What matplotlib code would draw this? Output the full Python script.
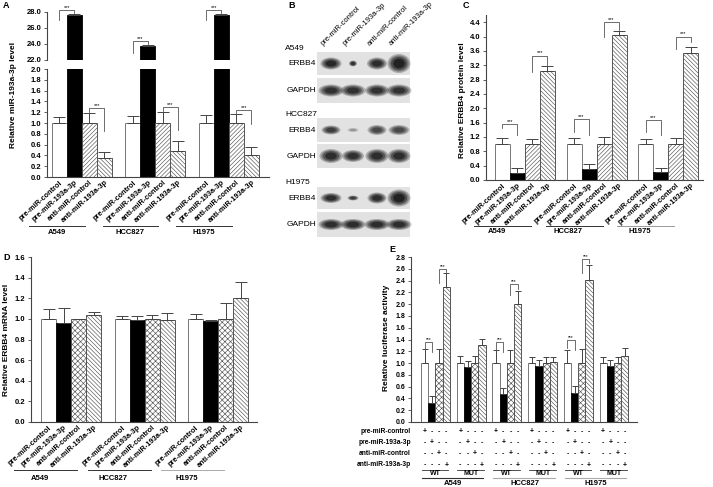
import numpy as np
import matplotlib
matplotlib.use('Agg')
import matplotlib.pyplot as plt
from matplotlib.patches import Rectangle, Ellipse

plt.rcParams['font.family'] = ['Liberation Sans', 'DejaVu Sans']
plt.rcParams['hatch.linewidth'] = 0.45

# ---------------- data ----------------
treatments = ['pre-miR-control', 'pre-miR-193a-3p', 'anti-miR-control', 'anti-miR-193a-3p']
cell_lines = ['A549', 'HCC827', 'H1975']

# A: relative miR-193a-3p level
mir_vals = [[1.0, 27.6, 1.0, 0.35], [1.0, 23.75, 1.0, 0.49], [1.0, 27.6, 1.0, 0.41]]
mir_err = [[0.11, 0.12, 0.18, 0.11], [0.13, 0.10, 0.20, 0.17], [0.14, 0.12, 0.16, 0.15]]
# brackets: (group, bar_a, bar_b, top, left_end, right_end)
mir_brk_hi = [(0, 0, 1, 28.3, 27.0, 27.85), (1, 0, 1, 24.4, 22.9, 24.0), (2, 0, 1, 28.3, 27.0, 27.85)]
mir_brk_lo = [(0, 2, 3, 1.28, 1.20, 0.85), (1, 2, 3, 1.30, 1.22, 0.87), (2, 2, 3, 1.24, 1.18, 0.98)]

# C: relative ERBB4 protein level
prot_vals = [[1.0, 0.20, 1.0, 3.03], [1.0, 0.30, 1.0, 4.04], [1.0, 0.22, 1.0, 3.53]]
prot_err = [[0.16, 0.13, 0.15, 0.16], [0.16, 0.15, 0.19, 0.12], [0.13, 0.11, 0.16, 0.19]]
prot_brk = [(0, 0, 1, 1.57, 1.45, 1.25), (0, 2, 3, 3.47, 3.02, 3.21),
            (1, 0, 1, 1.70, 1.35, 1.26), (1, 2, 3, 4.40, 4.00, 4.19),
            (2, 0, 1, 1.66, 1.35, 1.26), (2, 2, 3, 4.00, 3.65, 3.86)]

# D: relative ERBB4 mRNA level
mrna_vals = [[1.0, 0.96, 1.0, 1.035], [1.0, 0.99, 1.0, 0.99], [1.0, 0.975, 1.0, 1.20]]
mrna_err = [[0.10, 0.15, 0.0, 0.035], [0.025, 0.035, 0.04, 0.065], [0.045, 0.01, 0.15, 0.16]]

# E: relative luciferase activity
luc_groups = ['WT', 'MUT', 'WT', 'MUT', 'WT', 'MUT']
luc_vals = [[1.0, 0.32, 1.0, 2.29], [1.0, 0.93, 1.0, 1.30], [1.0, 0.47, 1.0, 2.00],
            [1.0, 0.95, 1.0, 1.01], [1.0, 0.49, 1.0, 2.41], [1.0, 0.95, 1.0, 1.12]]
luc_err = [[0.24, 0.12, 0.24, 0.24], [0.12, 0.11, 0.12, 0.11], [0.23, 0.115, 0.23, 0.23],
           [0.11, 0.11, 0.11, 0.10], [0.23, 0.12, 0.24, 0.26], [0.11, 0.10, 0.11, 0.13]]
luc_brk = [(0, 0, 1, 1.35, 1.22, 1.19), (0, 2, 3, 2.60, 2.36, 2.55),
           (2, 0, 1, 1.35, 1.22, 1.19), (2, 2, 3, 2.34, 2.16, 2.25),
           (4, 0, 1, 1.39, 1.25, 1.22), (4, 2, 3, 2.76, 2.53, 2.70)]

# B: western blot bands (width, height, darkness) per lane
blot_labels = ['ERBB4', 'GAPDH', 'ERBB4', 'GAPDH', 'ERBB4', 'GAPDH']
band_w = [[21, 8, 20, 23], [25, 25, 24, 25], [19, 11, 19, 21], [23, 22, 23, 23], [21, 11, 19, 23], [25, 25, 25, 25]]
band_h = [[12, 6, 12, 19], [12, 12, 12, 12], [9, 4, 10, 10], [14, 12, 14, 14], [10, 5, 11, 17], [11, 11, 11, 11]]
band_k = [[0.95, 0.9, 0.92, 0.97], [0.9, 0.9, 0.9, 0.9], [0.85, 0.45, 0.8, 0.8],
          [0.92, 0.9, 0.92, 0.92], [0.92, 0.85, 0.92, 0.97], [0.92, 0.92, 0.92, 0.92]]

# ---------------- layout helpers ----------------
W, H = 713, 487
fig = plt.figure(figsize=(W / 100, H / 100), dpi=100)


def add_ax(x0, y0, x1, y1):
    return fig.add_axes([x0 / W, 1 - y1 / H, (x1 - x0) / W, (y1 - y0) / H])


def style_ax(ax, ylim, yticks, xlim, fs=5.5):
    ax.set_ylim(*ylim)
    ax.set_xlim(*xlim)
    ax.set_yticks(yticks)
    ax.set_yticklabels(['%.1f' % t for t in yticks], fontsize=fs, fontweight='bold')
    for s in ['top', 'right']:
        ax.spines[s].set_visible(False)
    for s in ['left', 'bottom']:
        ax.spines[s].set_color('#444444')
        ax.spines[s].set_linewidth(0.8)
    ax.tick_params(axis='y', length=2.5, width=0.6, color='#444444', pad=1.5)
    ax.tick_params(axis='x', length=0, pad=1.5)
    ax.patch.set_alpha(0)


def bar_styles(cross):
    return [dict(facecolor='white', edgecolor='#777777'),
            dict(facecolor='black', edgecolor='#111111'),
            dict(facecolor='white', edgecolor='#555555', hatch='xxxxxx' if cross else '////////'),
            dict(facecolor='white', edgecolor='#555555', hatch='\\\\\\\\\\\\\\\\')]


def draw_bars(ax, vals, errs, step, width=1.0, cross=False, cap=4):
    st = bar_styles(cross)
    for g, (v, e) in enumerate(zip(vals, errs)):
        x = g * step + np.arange(4)
        for i in range(4):
            ax.bar(x[i], v[i], width, linewidth=0.7, zorder=2, **st[i])
        ax.errorbar(x, v, yerr=[np.zeros(4), e], fmt='none', ecolor='#444444',
                    elinewidth=0.7, capsize=cap, capthick=0.7, zorder=3)


def draw_brackets(ax, brks, step, fs=4):
    for g, a, b, top, yl, yr in brks:
        xa, xb = g * step + a, g * step + b
        ax.plot([xa, xa, xb, xb], [yl, top, top, yr], color='#555555', lw=0.6, clip_on=False, zorder=4)
        ax.text((xa + xb) / 2, top, '***', ha='center', va='bottom', fontsize=fs, clip_on=False)


def set_xlabels(ax, step, rot=42):
    pos = [g * step + i for g in range(3) for i in range(4)]
    ax.set_xticks(pos)
    ax.set_xticklabels(treatments * 3, rotation=rot, ha='right', rotation_mode='anchor',
                       fontsize=5.3, fontweight='bold')


def group_lines(ax, step, top_px, bot_px, line_px, text_px, off=(-3.5, 0.1), toff=-1.9, colors=None):
    tr = ax.get_xaxis_transform()
    hgt = bot_px - top_px
    yl = (bot_px - line_px) / hgt
    yt = (bot_px - text_px) / hgt
    for g, name in enumerate(cell_lines):
        c = g * step + 1.5
        col = colors[g] if colors else '#333333'
        ax.plot([c + off[0], c + off[1]], [yl, yl], transform=tr, color=col, lw=0.7, clip_on=False)
        ax.text(c + toff, yt, name, transform=tr, ha='center', va='center', fontsize=5.5,
                fontweight='bold', clip_on=False)


# ---------------- panel A (broken axis) ----------------
stepA = 4.9
xlimA = (-0.83, 13.97)
axA_lo = add_ax(47, 69, 269, 177)
axA_hi = add_ax(47, 12, 269, 60)
draw_bars(axA_lo, mir_vals, mir_err, stepA)
draw_bars(axA_hi, mir_vals, mir_err, stepA)
style_ax(axA_lo, (0, 2.0), np.arange(0, 2.01, 0.2), xlimA)
style_ax(axA_hi, (22, 28), [22, 24, 26, 28], xlimA)
axA_hi.spines['bottom'].set_visible(False)
axA_hi.set_xticks([])
draw_brackets(axA_hi, mir_brk_hi, stepA)
draw_brackets(axA_lo, mir_brk_lo, stepA)
set_xlabels(axA_lo, stepA)
group_lines(axA_lo, stepA, 69, 177, 226, 232, off=(-3.5, 0.2), toff=-1.7)
fig.text(14 / W, 1 - 95 / H, 'Relative miR-193a-3p level', rotation=90, ha='center', va='center',
         fontsize=6, fontweight='bold')

# ---------------- panel C ----------------
stepC = 4.77
axC = add_ax(486, 15, 703, 180)
draw_bars(axC, prot_vals, prot_err, stepC)
style_ax(axC, (0, 4.6), np.arange(0, 4.41, 0.4), (-1.1, 13.37))
draw_brackets(axC, prot_brk, stepC)
set_xlabels(axC, stepC)
group_lines(axC, stepC, 15, 180, 226, 232, off=(-3.4, 0.4), toff=-1.9,
            colors=['#333333', '#333333', '#999999'])
fig.text(462 / W, 1 - 100 / H, 'Relative ERBB4 protein level', rotation=90, ha='center', va='center',
         fontsize=6, fontweight='bold')

# ---------------- panel D ----------------
stepD = 4.9
axD = add_ax(31, 257, 257, 422)
draw_bars(axD, mrna_vals, mrna_err, stepD, cross=True)
style_ax(axD, (0, 1.6), np.arange(0, 1.61, 0.2), (-1.17, 13.9))
set_xlabels(axD, stepD)
group_lines(axD, stepD, 257, 422, 470, 478, off=(-3.8, 0.4), toff=-2.1,
            colors=['#333333', '#333333', '#aaaaaa'])
fig.text(7 / W, 1 - 340 / H, 'Relative ERBB4 mRNA level', rotation=90, ha='center', va='center',
         fontsize=6, fontweight='bold')

# ---------------- panel E ----------------
stepE = 4.96
axE = add_ax(411, 257, 637, 422)
draw_bars(axE, luc_vals, luc_err, stepE, cross=True, cap=2.5)
style_ax(axE, (0, 2.8), np.arange(0, 2.81, 0.2), (-1.9, 29.5), fs=5)
axE.set_xticks([])
draw_brackets(axE, luc_brk, stepE, fs=3.5)
trE = axE.get_xaxis_transform()
hE = 422 - 257
row_y = [431.7, 442.7, 453.7, 465.0]
for r, name in enumerate(treatments):
    yy = (422 - row_y[r]) / hE
    axE.text(-1.9, yy, name, transform=trE, ha='right', va='center', fontsize=4.8,
             fontweight='bold', clip_on=False)
    for g in range(len(luc_groups)):
        for i in range(4):
            axE.text(g * stepE + i, yy, '+' if i == r else '-', transform=trE, ha='center',
                     va='center', fontsize=5, fontweight='bold', clip_on=False)
for g, name in enumerate(luc_groups):
    y1 = (422 - 469.5) / hE
    axE.plot([g * stepE - 0.4, g * stepE + 3.3], [y1, y1], transform=trE, color='#333333', lw=0.6,
             clip_on=False)
    axE.text(g * stepE + 1.5, (422 - 473.8) / hE, name, transform=trE, ha='center', va='center',
             fontsize=5, fontweight='bold', clip_on=False)
for c, name in enumerate(cell_lines):
    y2 = (422 - 477.8) / hE
    g0 = 2 * c * stepE
    axE.plot([g0 - 0.4, g0 + stepE + 3.2], [y2, y2], transform=trE,
             color='#333333' if c == 0 else '#aaaaaa', lw=0.8, clip_on=False)
    axE.text(g0 + (stepE + 3) / 2, (422 - 483.5) / hE, name, transform=trE, ha='center', va='center',
             fontsize=5.5, fontweight='bold', clip_on=False)
fig.text(386 / W, 1 - 338 / H, 'Relative luciferase activity', rotation=90, ha='center', va='center',
         fontsize=6, fontweight='bold')

# ---------------- panel B (western blot) ----------------
axB = add_ax(280, 0, 420, 240)
axB.set_xlim(280, 420)
axB.set_ylim(240, 0)
axB.axis('off')
lanes = [331, 353, 377, 399]
blot_y = [(52, 75), (78, 103), (118, 142), (144, 168), (187, 209), (212, 237)]
for r, (y0, y1) in enumerate(blot_y):
    axB.add_patch(Rectangle((317, y0), 93, y1 - y0, facecolor='#e2e2e2', edgecolor='none'))
    yc = (y0 + y1) / 2
    for j, x in enumerate(lanes):
        k = band_k[r][j]
        for s, a in [(1.0, 0.25), (0.85, 0.3), (0.7, 0.4), (0.5, 0.6)]:
            axB.add_patch(Ellipse((x, yc), band_w[r][j] * s, band_h[r][j] * s,
                                  facecolor=(1 - k, 1 - k, 1 - k), edgecolor='none', alpha=a))
    axB.text(316, yc, blot_labels[r], ha='right', va='center', fontsize=6)
for name, yy in zip(cell_lines, [48, 115, 183]):
    axB.text(285, yy, name, ha='left', va='center', fontsize=6)
for j, x in enumerate(lanes):
    axB.text(x - 6, 47, treatments[j], rotation=45, ha='left', va='bottom', rotation_mode='anchor',
             fontsize=5.5)

# ---------------- panel letters ----------------
for lab, x, y in [('A', 3, 5), ('B', 288, 5), ('C', 463, 5), ('D', 3, 258), ('E', 389, 250)]:
    fig.text(x / W, 1 - y / H, lab, ha='left', va='center', fontsize=6.5, fontweight='bold')

fig.savefig('out.png', dpi=100)
